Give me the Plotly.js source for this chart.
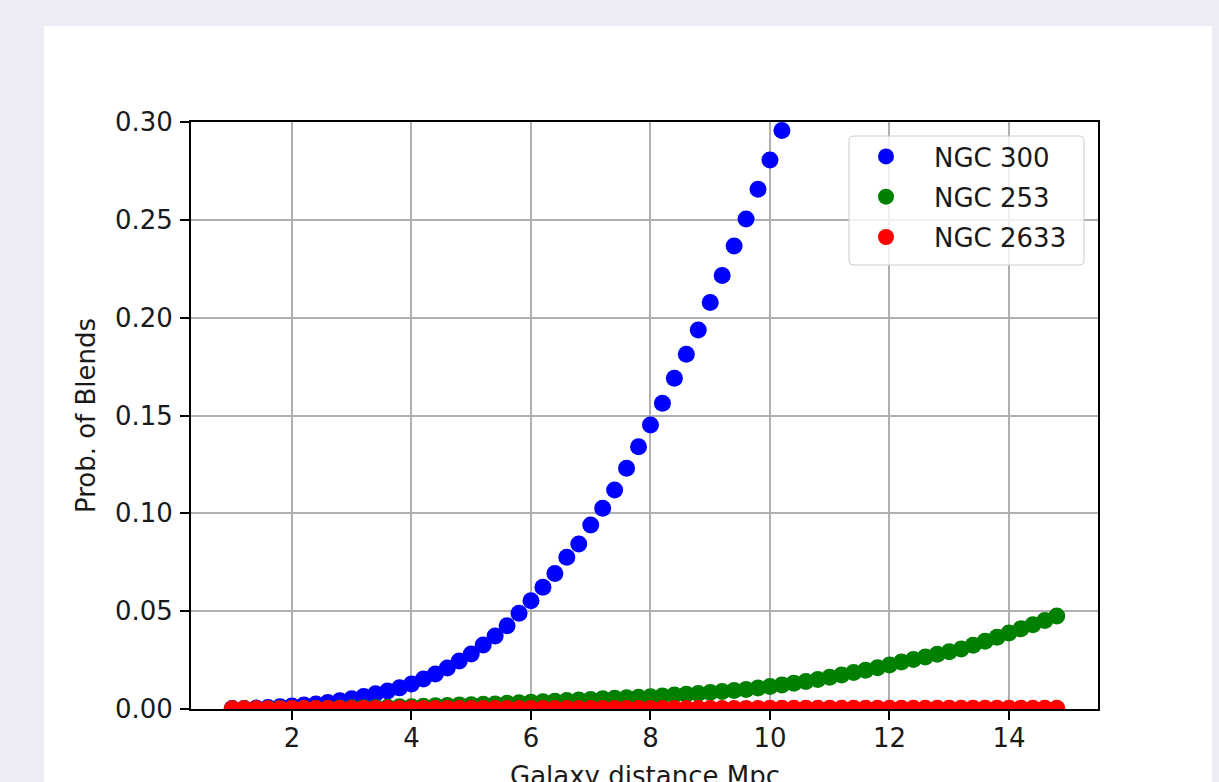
<!DOCTYPE html>
<html>
<head>
<meta charset="utf-8">
<script src="https://cdn.plot.ly/plotly-3.0.1.min.js"></script>
<style>
  html, body { margin: 0; padding: 0; background: #ecebf6; }
  #chart { width: 1219px; height: 782px; }
</style>
</head>
<body>
<div id="chart"></div>
<script>
// Galaxy distance (Mpc)
const distance = [1.0,1.2,1.4,1.6,1.8,2.0,2.2,2.4,2.6,2.8,3.0,3.2,3.4,3.6,3.8,4.0,4.2,4.4,4.6,4.8,
  5.0,5.2,5.4,5.6,5.8,6.0,6.2,6.4,6.6,6.8,7.0,7.2,7.4,7.6,7.8,8.0,8.2,8.4,8.6,8.8,
  9.0,9.2,9.4,9.6,9.8,10.0,10.2,10.4,10.6,10.8,11.0,11.2,11.4,11.6,11.8,12.0,12.2,12.4,12.6,12.8,
  13.0,13.2,13.4,13.6,13.8,14.0,14.2,14.4,14.6,14.8];

// NGC 300 (shown up to 10.2 Mpc; later points lie above the axis range)
const ngc300 = [0.0002,0.0003,0.0005,0.0008,0.0011,0.0015,0.0020,0.0026,0.0033,0.0042,
  0.0052,0.0064,0.0078,0.0092,0.0108,0.0128,0.0153,0.0179,0.0210,0.0245,
  0.0281,0.0327,0.0373,0.0426,0.0489,0.0553,0.0622,0.0693,0.0775,0.0843,
  0.0940,0.1026,0.1119,0.1230,0.1340,0.1451,0.1563,0.1690,0.1813,0.1937,
  0.2077,0.2215,0.2366,0.2504,0.2656,0.2806,0.2956];

// NGC 253
const ngc253 = [0.0000,0.0001,0.0001,0.0001,0.0002,0.0002,0.0003,0.0003,0.0004,0.0005,
  0.0006,0.0007,0.0008,0.0009,0.0011,0.0012,0.0014,0.0016,0.0018,0.0020,
  0.0022,0.0024,0.0026,0.0029,0.0032,0.0034,0.0037,0.0040,0.0043,0.0046,
  0.0049,0.0052,0.0055,0.0058,0.0060,0.0063,0.0067,0.0071,0.0075,0.0079,
  0.0084,0.0089,0.0094,0.0100,0.0107,0.0115,0.0123,0.0132,0.0141,0.0151,
  0.0162,0.0174,0.0186,0.0198,0.0211,0.0225,0.0240,0.0253,0.0266,0.0280,
  0.0293,0.0307,0.0326,0.0346,0.0367,0.0388,0.0410,0.0430,0.0452,0.0475,0.0500];

// NGC 2633
const ngc2633 = [0.0001,0.0001,0.0001,0.0001,0.0001,0.0002,0.0002,0.0002,0.0002,0.0002,
  0.0002,0.0002,0.0002,0.0002,0.0002,0.0002,0.0002,0.0002,0.0002,0.0003,
  0.0003,0.0003,0.0003,0.0003,0.0003,0.0003,0.0003,0.0003,0.0003,0.0003,
  0.0003,0.0003,0.0003,0.0003,0.0003,0.0003,0.0003,0.0003,0.0003,0.0003,
  0.0003,0.0003,0.0003,0.0003,0.0003,0.0004,0.0004,0.0004,0.0004,0.0004,
  0.0004,0.0004,0.0004,0.0004,0.0004,0.0004,0.0004,0.0004,0.0004,0.0004,
  0.0004,0.0004,0.0004,0.0004,0.0004,0.0004,0.0004,0.0004,0.0004,0.0004];

const seriesNames = ['NGC 300', 'NGC 253', 'NGC 2633'];
const xTicks = [2, 4, 6, 8, 10, 12, 14];
const yTicks = [0.00, 0.05, 0.10, 0.15, 0.20, 0.25, 0.30];
const yTickText = ['0.00', '0.05', '0.10', '0.15', '0.20', '0.25', '0.30'];
const xTitle = 'Galaxy distance Mpc';
const yTitle = 'Prob. of Blends';

const FONT = 'DejaVu Sans, Verdana, sans-serif';
const TXT = '#1a1a1a';
const mk = (color) => ({ color: color, size: 17, line: { width: 0 } });

const traces = [
  { x: distance.slice(0, ngc300.length), y: ngc300, name: seriesNames[0], type: 'scatter', mode: 'markers',
    marker: mk('#0000ff'), legendgroup: 'a', cliponaxis: true },
  { x: distance, y: ngc253, name: seriesNames[1], type: 'scatter', mode: 'markers',
    marker: mk('#008000'), legendgroup: 'b', cliponaxis: true },
  { x: distance, y: ngc2633, name: seriesNames[2], type: 'scatter', mode: 'markers',
    marker: mk('#ff0000'), legendgroup: 'c', cliponaxis: true }
];

const axisCommon = {
  showline: true, linecolor: '#000', linewidth: 2, mirror: true,
  ticks: 'outside', ticklen: 9, tickwidth: 2, tickcolor: '#000',
  showgrid: true, gridcolor: '#b0b0b0', gridwidth: 2,
  zeroline: false,
  tickfont: { family: FONT, size: 26, color: TXT }
};

// plot area in pixels: x 191..1098, y 122..709
const PL = 191, PR = 1098, PT = 122, PB = 709;
const px = (p) => (p - PL) / (PR - PL);
const py = (p) => (PB - p) / (PB - PT);

const legendBox = { x0: px(849), x1: px(1084), y0: py(265), y1: py(136) };
const r = 5 / (PR - PL), ry = 5 / (PB - PT);
const boxPath = `M ${legendBox.x0 + r} ${legendBox.y1} L ${legendBox.x1 - r} ${legendBox.y1} ` +
  `Q ${legendBox.x1} ${legendBox.y1} ${legendBox.x1} ${legendBox.y1 - ry} ` +
  `L ${legendBox.x1} ${legendBox.y0 + ry} Q ${legendBox.x1} ${legendBox.y0} ${legendBox.x1 - r} ${legendBox.y0} ` +
  `L ${legendBox.x0 + r} ${legendBox.y0} Q ${legendBox.x0} ${legendBox.y0} ${legendBox.x0} ${legendBox.y0 + ry} ` +
  `L ${legendBox.x0} ${legendBox.y1 - ry} Q ${legendBox.x0} ${legendBox.y1} ${legendBox.x0 + r} ${legendBox.y1} Z`;

const layout = {
  width: 1219, height: 782,
  paper_bgcolor: '#ecebf6',
  plot_bgcolor: '#ffffff',
  margin: { l: PL, r: 1219 - PR, t: PT, b: 782 - PB },
  showlegend: true,
  font: { family: FONT, size: 26, color: TXT },
  xaxis: Object.assign({}, axisCommon, {
    range: [0.31, 15.49],
    tickvals: xTicks,
    ticklabelstandoff: -4
  }),
  yaxis: Object.assign({}, axisCommon, {
    range: [0, 0.30],
    tickvals: yTicks,
    ticktext: yTickText,
    ticklabelstandoff: 2,
    title: { text: yTitle, font: { family: FONT, size: 26, color: TXT }, standoff: 12 }
  }),
  legend: {
    x: px(838), xanchor: 'left', y: py(133), yanchor: 'top',
    bgcolor: 'rgba(0,0,0,0)', borderwidth: 0,
    font: { family: FONT, size: 26, color: TXT },
    itemwidth: 86, tracegroupgap: 3.5
  },
  annotations: [
    { text: xTitle, xref: 'paper', yref: 'paper', x: 0.5, xanchor: 'center',
      y: py(759), yanchor: 'top', showarrow: false,
      font: { family: FONT, size: 26, color: TXT } }
  ],
  shapes: [
    { type: 'rect', xref: 'paper', yref: 'paper', layer: 'below',
      x0: px(44), x1: px(1212), y0: py(830), y1: py(26),
      fillcolor: '#ffffff', line: { width: 0 } },
    { type: 'path', xref: 'paper', yref: 'paper', layer: 'above', path: boxPath,
      fillcolor: 'rgba(255,255,255,0.8)', line: { color: '#cccccc', width: 1 } }
  ]
};

Plotly.newPlot('chart', traces, layout, { displayModeBar: false, staticPlot: true });
</script>
</body>
</html>
